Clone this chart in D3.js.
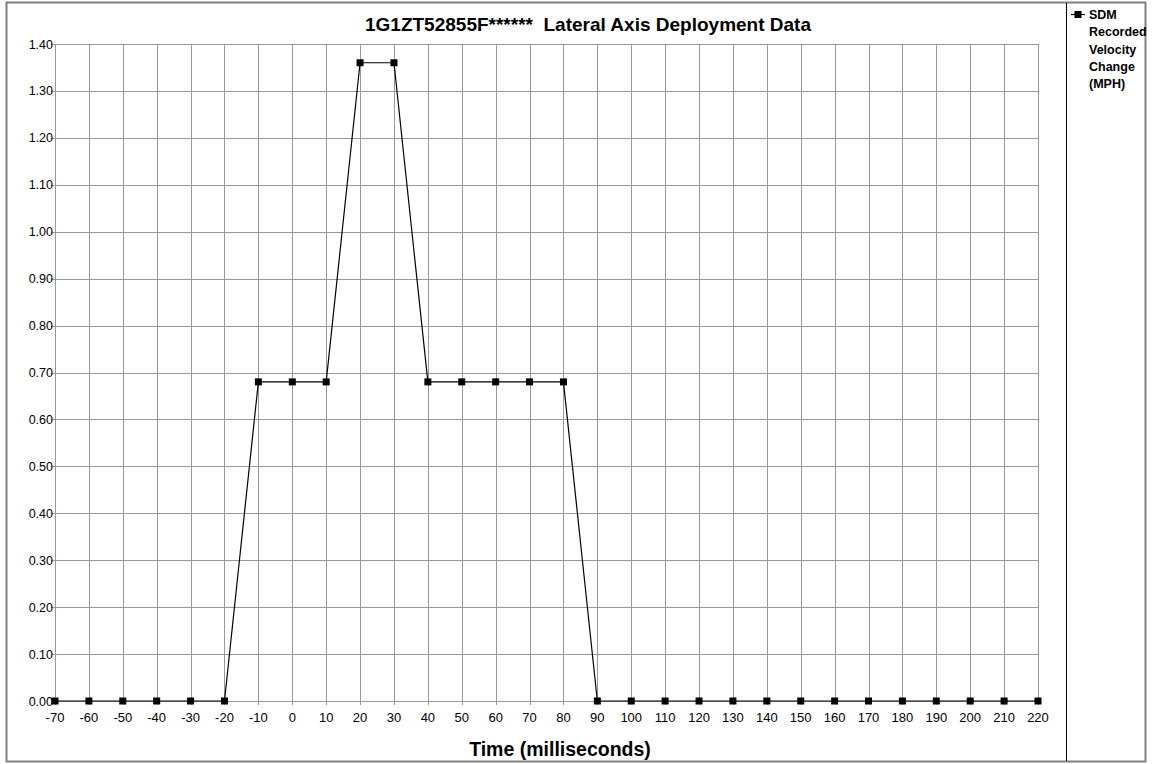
<!DOCTYPE html>
<html>
<head>
<meta charset="utf-8">
<script src="https://cdn.jsdelivr.net/npm/d3@7"></script>
<style>
  body { margin: 0; background: #fff; }
  text { font-family: Arial, "Liberation Sans", sans-serif; white-space: pre; }
</style>
</head>
<body>
<svg id="chart"></svg>
<script>
var width = 1154, height = 764;

// data
const times = [-70, -60, -50, -40, -30, -20, -10, 0, 10, 20, 30, 40, 50, 60, 70, 80, 90,
  100, 110, 120, 130, 140, 150, 160, 170, 180, 190, 200, 210, 220];
const velocity = [0, 0, 0, 0, 0, 0, 0.68, 0.68, 0.68, 1.36, 1.36, 0.68, 0.68, 0.68, 0.68, 0.68, 0,
  0, 0, 0, 0, 0, 0, 0, 0, 0, 0, 0, 0, 0];
const yTicks = [0, 0.1, 0.2, 0.3, 0.4, 0.5, 0.6, 0.7, 0.8, 0.9, 1.0, 1.1, 1.2, 1.3, 1.4];
const titleText = "1G1ZT52855F******  Lateral Axis Deployment Data";
const xTitle = "Time (milliseconds)";
const legendLines = ["SDM", "Recorded", "Velocity", "Change", "(MPH)"];

const svg = d3.select("svg#chart")
  .attr("width", width)
  .attr("height", height);

// outer frame
svg.append("rect")
  .attr("x", 6.5).attr("y", 2.5)
  .attr("width", 1139).attr("height", 759)
  .style("fill", "none")
  .style("stroke", "#808080")
  .style("stroke-width", 2);

// legend divider
svg.append("line")
  .attr("x1", 1066.5).attr("x2", 1066.5)
  .attr("y1", 3).attr("y2", 761)
  .style("stroke", "#000");

// scales
var x = d3.scalePoint()
  .domain(times)
  .range([55, 1038]);

var y = d3.scaleLinear()
  .domain([0, 1.4])
  .range([701, 44]);

// grid
const grid = svg.append("g").attr("id", "grid");

grid.selectAll(".gridH")
  .data(yTicks)
  .enter().append("line")
    .attr("class", "gridH")
    .attr("x1", 51)
    .attr("x2", x(220))
    .attr("y1", d => Math.round(y(d)) + 0.5)
    .attr("y2", d => Math.round(y(d)) + 0.5)
    .style("stroke", "#999")
    .style("stroke-width", 1);

grid.selectAll(".gridV")
  .data(times)
  .enter().append("line")
    .attr("class", "gridV")
    .attr("x1", d => Math.round(x(d)) + 0.5)
    .attr("x2", d => Math.round(x(d)) + 0.5)
    .attr("y1", y(1.4))
    .attr("y2", y(0) + 4)
    .style("stroke", "#999")
    .style("stroke-width", 1);

// y labels
svg.append("g").selectAll("text")
  .data(yTicks)
  .enter().append("text")
    .attr("x", 53)
    .attr("y", d => y(d) + 4.5)
    .attr("text-anchor", "end")
    .style("font-size", "12.5px")
    .style("fill", "#000")
    .text(d => d3.format(".2f")(d));

// x labels
svg.append("g").selectAll("text")
  .data(times)
  .enter().append("text")
    .attr("x", d => x(d))
    .attr("y", 722)
    .attr("text-anchor", "middle")
    .style("font-size", "13px")
    .style("fill", "#000")
    .text(d => d);

// series line
const pts = times.map((t, i) => [t, velocity[i]]);

svg.append("path")
  .datum(pts)
  .attr("d", d3.line().x(d => x(d[0])).y(d => y(d[1])))
  .style("fill", "none")
  .style("stroke", "#000")
  .style("stroke-width", 1.2);

svg.append("g").selectAll("rect")
  .data(pts)
  .enter().append("rect")
    .attr("x", d => x(d[0]) - 3.5)
    .attr("y", d => y(d[1]) - 3.5)
    .attr("width", 7)
    .attr("height", 7)
    .style("fill", "#000");

// titles
svg.append("text")
  .attr("x", 588)
  .attr("y", 31)
  .attr("text-anchor", "middle")
  .style("font-size", "19px")
  .style("font-weight", "bold")
  .text(titleText);

svg.append("text")
  .attr("x", 560)
  .attr("y", 756)
  .attr("text-anchor", "middle")
  .style("font-size", "19.5px")
  .style("font-weight", "bold")
  .text(xTitle);

// legend
const legend = svg.append("g").attr("id", "legend");

legend.append("line")
  .attr("x1", 1071).attr("x2", 1085)
  .attr("y1", 14.5).attr("y2", 14.5)
  .style("stroke", "#000")
  .style("stroke-width", 1.2);

legend.append("rect")
  .attr("x", 1074.5).attr("y", 11)
  .attr("width", 7).attr("height", 7)
  .style("fill", "#000");

legend.selectAll("text")
  .data(legendLines)
  .enter().append("text")
    .attr("x", 1089)
    .attr("y", (d, i) => 19 + i * 17.3)
    .style("font-size", "12.5px")
    .style("font-weight", "bold")
    .text(d => d);
</script>
</body>
</html>
